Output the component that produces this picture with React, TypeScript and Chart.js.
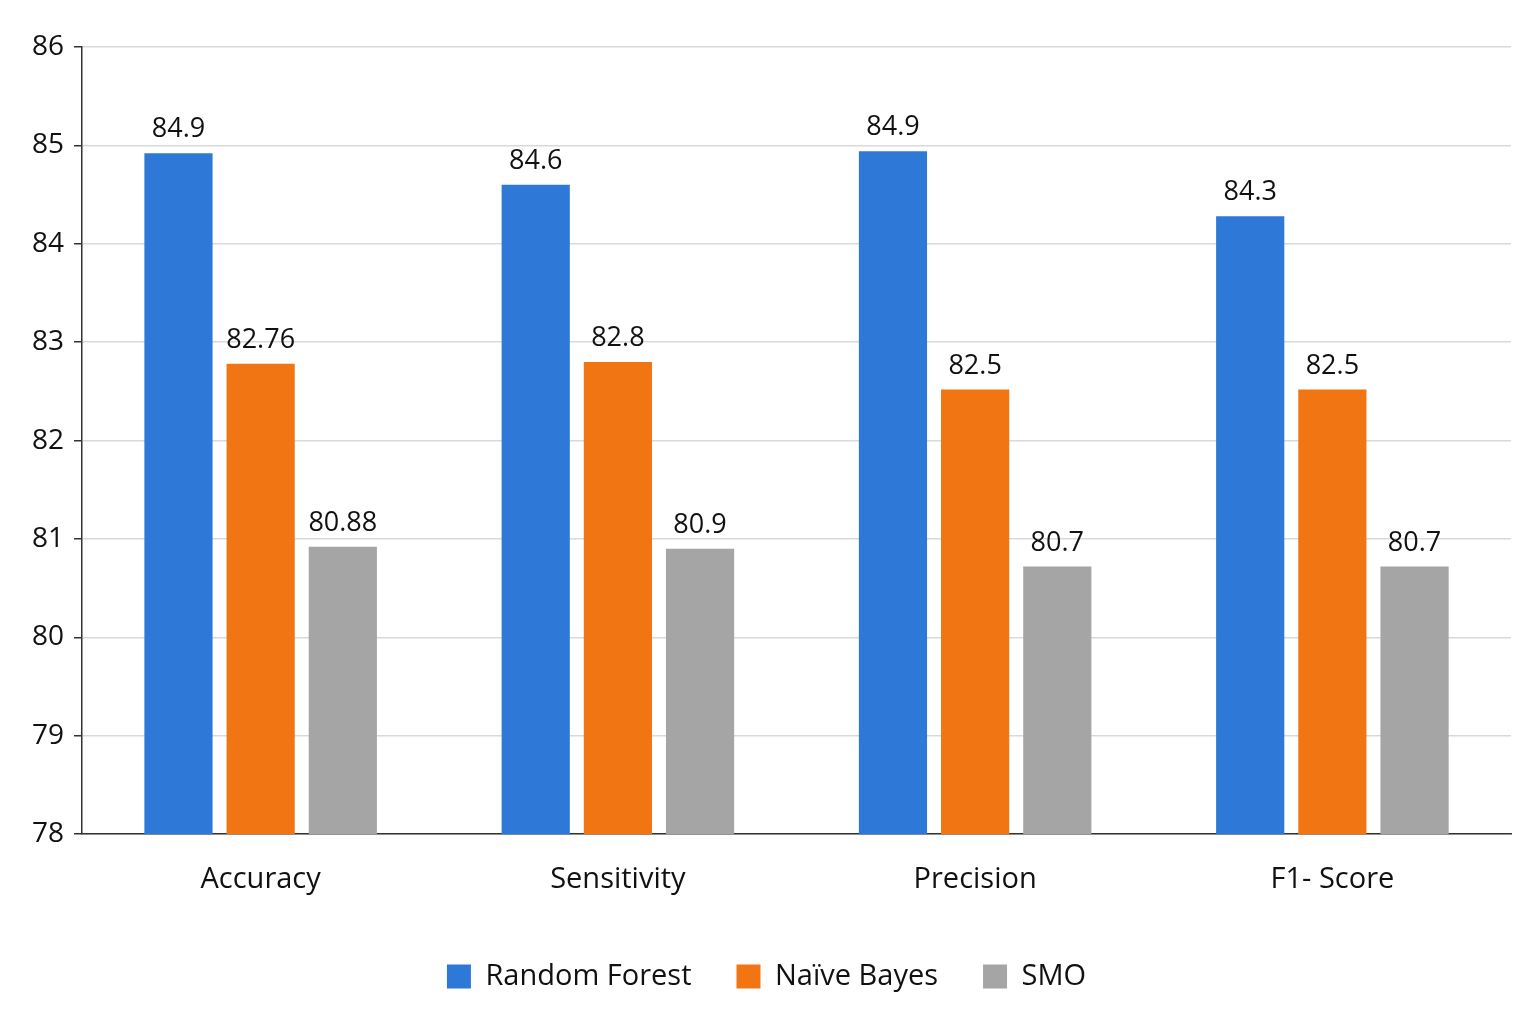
import React, { useEffect, useRef } from "react";
import { Chart, registerables } from "chart.js";
Chart.register(...registerables);

const categories = ["Accuracy", "Sensitivity", "Precision", "F1- Score"];
const seriesNames = ["Random Forest", "Naïve Bayes", "SMO"];
const rfValues = [84.92, 84.6, 84.94, 84.28];
const nbValues = [82.78, 82.8, 82.52, 82.52];
const smoValues = [80.92, 80.9, 80.72, 80.72];
const rfLabels = ["84.9", "84.6", "84.9", "84.3"];
const nbLabels = ["82.76", "82.8", "82.5", "82.5"];
const smoLabels = ["80.88", "80.9", "80.7", "80.7"];
const colors = ["#2E78D8", "#F27513", "#A5A5A5"];

const FONT = "'Open Sans', Lato, sans-serif";

export default function App() {
  const ref = useRef<HTMLCanvasElement>(null);
  useEffect(() => {
    document.body.style.margin = "0";
    const labelsAll = [rfLabels, nbLabels, smoLabels];
    const valuePlugin = {
      id: "vals",
      afterDatasetsDraw(chart: any) {
        const ctx = chart.ctx;
        ctx.save();
        ctx.font = `500 27px ${FONT}`;
        ctx.fillStyle = "#111";
        ctx.textAlign = "center";
        ctx.textBaseline = "bottom";
        chart.data.datasets.forEach((_: any, i: number) => {
          chart.getDatasetMeta(i).data.forEach((bar: any, j: number) => {
            ctx.fillText(labelsAll[i][j], bar.x, bar.y - 10);
          });
        });
        ctx.restore();
      },
    };
    const chart = new Chart(ref.current!, {
      type: "bar",
      data: {
        labels: categories,
        datasets: [rfValues, nbValues, smoValues].map((d, i) => ({
          label: seriesNames[i],
          data: d,
          backgroundColor: colors[i],
          categoryPercentage: 0.69,
          barPercentage: 0.83,
        })),
      },
      options: {
        animation: false,
        responsive: false,
        layout: { padding: { left: 22, right: 26, top: 47, bottom: 22 } },
        scales: {
          y: {
            min: 78,
            max: 86,
            ticks: { stepSize: 1, color: "#111", font: { family: FONT, size: 28, weight: "500" }, padding: 10 },
            grid: { color: "#d9d9d9", lineWidth: 1.5, tickLength: 8, tickColor: "#333" },
            border: { color: "#333", width: 1.5 },
          },
          x: {
            ticks: { color: "#111", font: { family: FONT, size: 29, weight: "500" }, padding: 20 },
            grid: { display: false },
            border: { color: "#333", width: 1.5 },
          },
        },
        plugins: {
          legend: {
            position: "bottom",
            labels: {
              color: "#111",
              font: { family: FONT, size: 29, weight: "500" },
              boxWidth: 24,
              boxHeight: 24,
              padding: 45,
            },
          },
          tooltip: { enabled: false },
        },
      },
      plugins: [valuePlugin],
    });
    return () => chart.destroy();
  }, []);
  return <canvas ref={ref} width={1537} height={1023} style={{ display: "block" }} />;
}
